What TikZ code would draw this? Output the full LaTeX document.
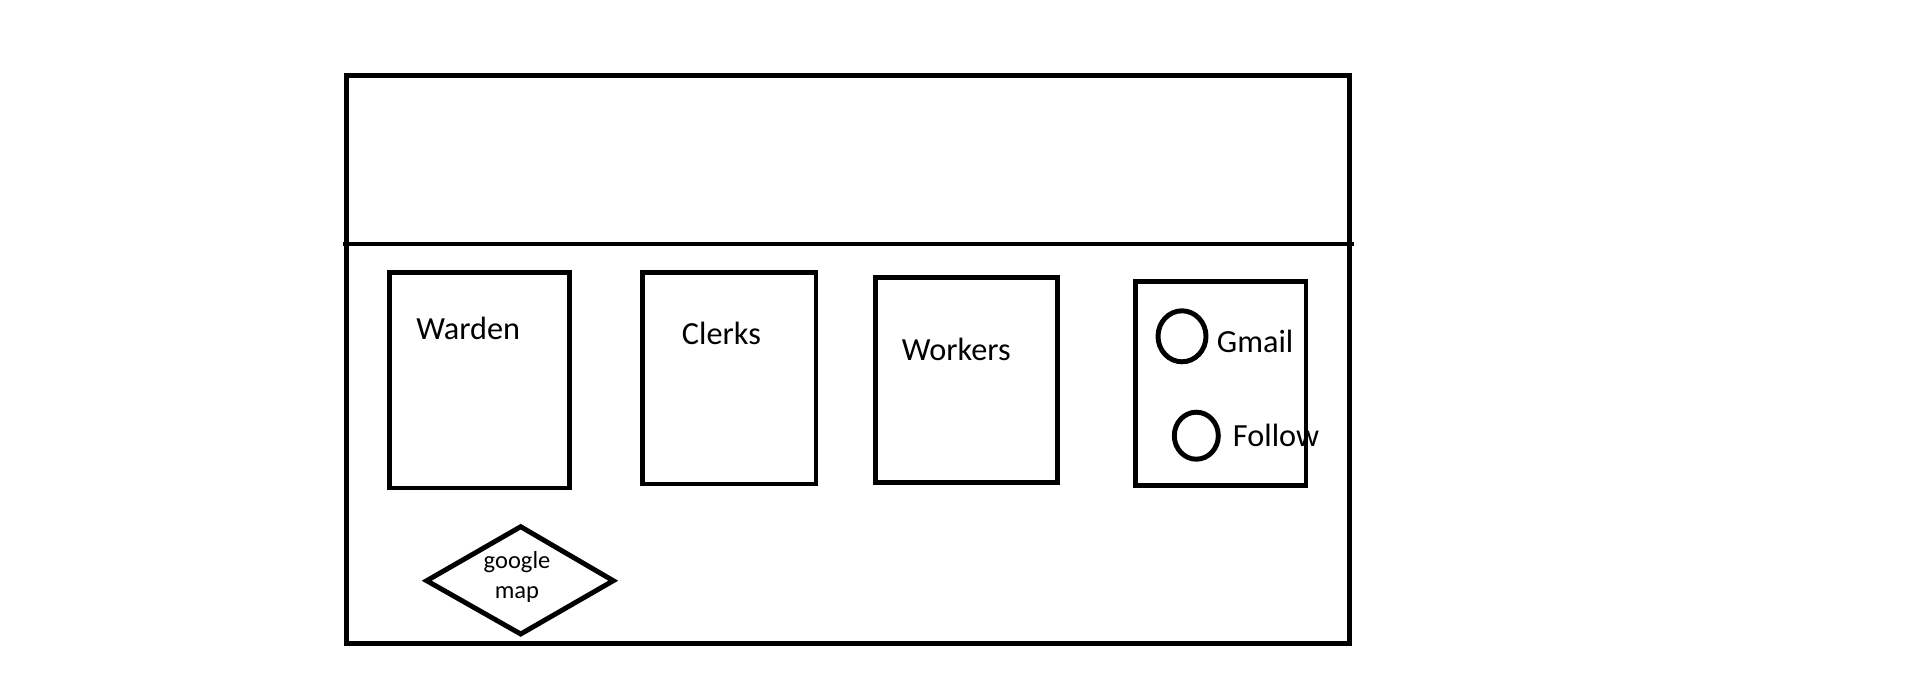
\documentclass[tikz,border=0pt]{standalone}
\usepackage{fontspec}
\setmainfont{Carlito}
\begin{document}
\begin{tikzpicture}[x=0.75pt,y=-0.75pt,
  thick line/.style={line width=3.7pt,line join=miter},
  label text/.style={inner sep=0pt,anchor=base west,font=\fontsize{24.2pt}{28pt}\selectfont},
  small text/.style={inner sep=0pt,align=center,font=\fontsize{18.4pt}{22.5pt}\selectfont}]
\useasboundingbox[fill=white] (0,0) rectangle (1913,675);
% outer frame
\draw[thick line] (346.3,75.3) rectangle (1349.3,643.3);
\coordinate (hl) at (343.3,244);
\coordinate (hr) at (1354,244);
\draw[thick line] (hl) -- (hr);
% boxes
\draw[thick line] (389.3,272.7) rectangle (569.3,488);
\node[label text] (warden) at (416,339) {Warden};
\draw[thick line] (642.7,272.7) rectangle (816,484);
\node[label text] (clerks) at (681.7,344) {Clerks};
\draw[thick line] (875.3,277.3) rectangle (1057.3,482.7);
\node[label text] (workers) at (901.7,360.7) {Workers};
\draw[thick line] (1135.3,281.3) rectangle (1306,485.3);
\draw[thick line] (1182,336.3) ellipse [x radius=24, y radius=25.5];
\node[label text] (gmail) at (1216.7,352) {Gmail};
\draw[thick line] (1196.3,435.7) ellipse [x radius=22, y radius=23.5];
\node[label text] (follow) at (1232.7,446) {Follow};
% diamond
\draw[thick line] (520.7,526.7) -- (613.3,580.7) -- (520.7,634) -- (426.7,580.7) -- cycle;
\node[small text] (gmap) at (517,577) {google\\map};
\end{tikzpicture}
\end{document}
